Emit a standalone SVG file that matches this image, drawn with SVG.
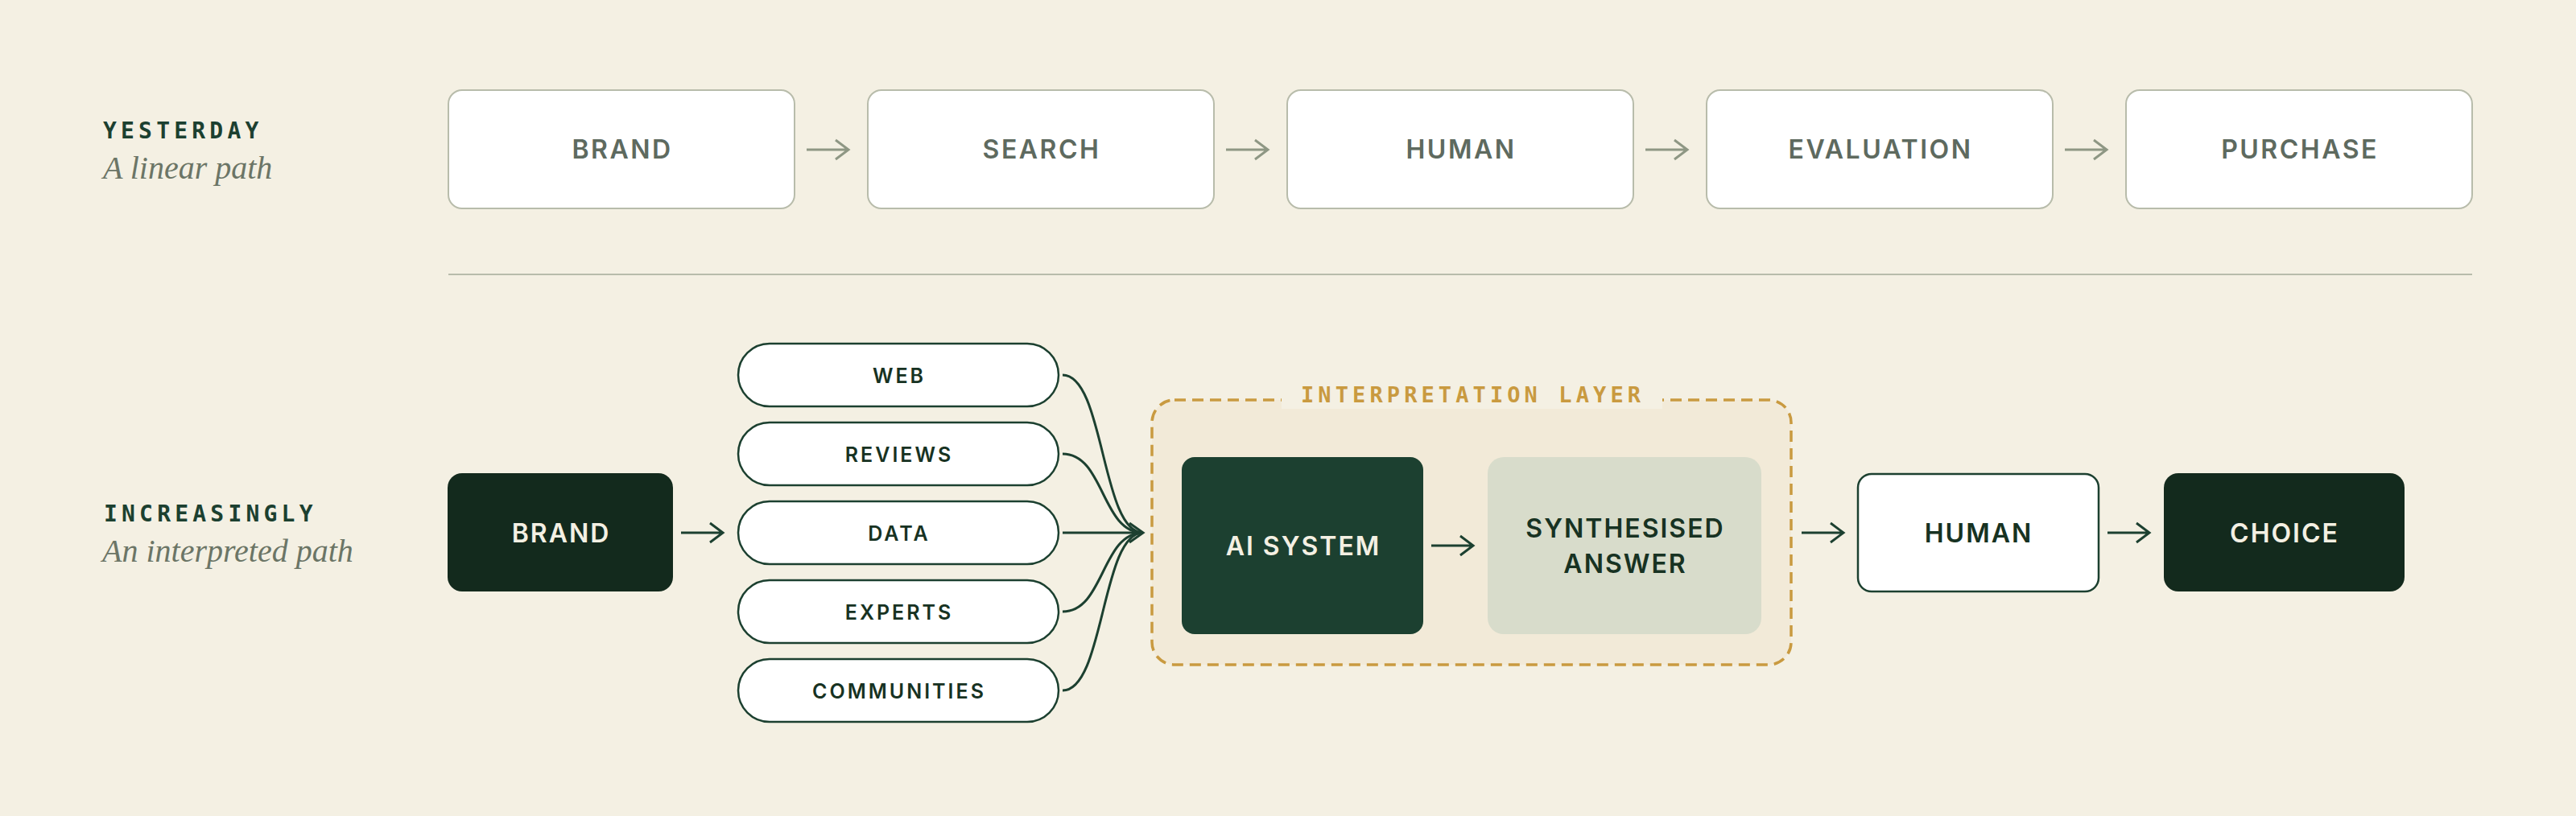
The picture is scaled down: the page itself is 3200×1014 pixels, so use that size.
<svg xmlns="http://www.w3.org/2000/svg" width="3200" height="1014" viewBox="0 0 3200 1014">
  <style>
    .bg { fill: #f4f0e3; }
    .tbox { fill: #ffffff; stroke: #b8bcab; stroke-width: 2; }
    .ttext { font-family: Inter, "Noto Sans", "Liberation Sans", sans-serif; font-size: 32px; font-weight: 600; fill: #5e6a5f; letter-spacing: 2.5px; text-anchor: middle; }
    .tarrow { fill: none; stroke: #8e9784; stroke-width: 3; stroke-linecap: butt; stroke-linejoin: miter; }
    .kicker { font-family: "DejaVu Sans Mono", "Liberation Mono", monospace; font-size: 28px; font-weight: 700; fill: #1c4030; letter-spacing: 5.2px; }
    .sub { font-family: "Liberation Serif", "DejaVu Serif", serif; font-style: italic; font-size: 40px; fill: #6b7566; }
    .pill { fill: #ffffff; stroke: #1c4030; stroke-width: 2.5; }
    .ptext { font-family: Inter, "Noto Sans", "Liberation Sans", sans-serif; font-size: 25px; font-weight: 600; fill: #173222; letter-spacing: 3px; text-anchor: middle; }
    .btext { font-family: Inter, "Noto Sans", "Liberation Sans", sans-serif; font-size: 32px; font-weight: 600; letter-spacing: 2px; text-anchor: middle; }
    .conn { fill: none; stroke: #1c4030; stroke-width: 3; }
    .layer { fill: #f2ead8; stroke: #c99a40; stroke-width: 3.5; stroke-dasharray: 14 8; }
    .ltext { font-family: "DejaVu Sans Mono", "Liberation Mono", monospace; font-size: 27px; font-weight: 700; fill: #c99a40; letter-spacing: 5.1px; }
  </style>
  <rect class="bg" x="0" y="0" width="3200" height="1014"/>

  <!-- left labels -->
  <g id="label-yesterday">
    <text class="kicker" x="128" y="172">YESTERDAY</text>
    <text class="sub" x="128" y="222">A linear path</text>
  </g>
  <g id="label-increasingly">
    <text class="kicker" x="129" y="648">INCREASINGLY</text>
    <text class="sub" x="127" y="698">An interpreted path</text>
  </g>

  <!-- top row -->
  <g id="top-brand">
    <rect class="tbox" x="557" y="112" width="430" height="147" rx="17"/>
    <text class="ttext" x="773" y="197">BRAND</text>
  </g>
  <g id="top-search">
    <rect class="tbox" x="1078" y="112" width="430" height="147" rx="17"/>
    <text class="ttext" x="1294" y="197">SEARCH</text>
  </g>
  <g id="top-human">
    <rect class="tbox" x="1599" y="112" width="430" height="147" rx="17"/>
    <text class="ttext" x="1815" y="197">HUMAN</text>
  </g>
  <g id="top-evaluation">
    <rect class="tbox" x="2120" y="112" width="430" height="147" rx="17"/>
    <text class="ttext" x="2336" y="197">EVALUATION</text>
  </g>
  <g id="top-purchase">
    <rect class="tbox" x="2641" y="112" width="430" height="147" rx="17"/>
    <text class="ttext" x="2857" y="197">PURCHASE</text>
  </g>

  <line x1="557" y1="341" x2="3071" y2="341" stroke="#b8bcab" stroke-width="2"/>

  <!-- interpretation layer container -->
  <g id="interpretation-layer">
    <rect class="layer" x="1431" y="497" width="794" height="329" rx="28"/>
    <rect x="1592" y="478" width="473" height="30" fill="#f4f0e3"/>
    <text class="ltext" x="1616" y="500">INTERPRETATION LAYER</text>
  </g>

  <!-- bottom row nodes -->
  <g id="brand">
    <rect x="556" y="588" width="280" height="147" rx="18" fill="#132a1d"/>
    <text class="btext" x="697" y="674" fill="#f4f0e3">BRAND</text>
  </g>
  <g id="web">
    <rect class="pill" x="917" y="427" width="398" height="78" rx="39"/>
    <text class="ptext" x="1117" y="476">WEB</text>
  </g>
  <g id="reviews">
    <rect class="pill" x="917" y="525" width="398" height="78" rx="39"/>
    <text class="ptext" x="1117" y="574">REVIEWS</text>
  </g>
  <g id="data">
    <rect class="pill" x="917" y="623" width="398" height="78" rx="39"/>
    <text class="ptext" x="1117" y="672">DATA</text>
  </g>
  <g id="experts">
    <rect class="pill" x="917" y="721" width="398" height="78" rx="39"/>
    <text class="ptext" x="1117" y="770">EXPERTS</text>
  </g>
  <g id="communities">
    <rect class="pill" x="917" y="819" width="398" height="78" rx="39"/>
    <text class="ptext" x="1117" y="868">COMMUNITIES</text>
  </g>
  <g id="ai-system">
    <rect x="1468" y="568" width="300" height="220" rx="16" fill="#1c4030"/>
    <text class="btext" x="1619" y="690" fill="#f4f0e3">AI SYSTEM</text>
  </g>
  <g id="synthesised-answer">
    <rect x="1848" y="568" width="340" height="220" rx="20" fill="#d8dccb"/>
    <text class="btext" x="2019" y="668" fill="#173222">SYNTHESISED</text>
    <text class="btext" x="2019" y="712" fill="#173222">ANSWER</text>
  </g>
  <g id="human">
    <rect x="2308" y="589" width="299" height="146" rx="17" fill="#ffffff" stroke="#1c4030" stroke-width="2.5"/>
    <text class="btext" x="2458" y="674" fill="#173222">HUMAN</text>
  </g>
  <g id="choice">
    <rect x="2688" y="588" width="299" height="147" rx="18" fill="#132a1d"/>
    <text class="btext" x="2838" y="674" fill="#f4f0e3">CHOICE</text>
  </g>

  <!-- connectors -->
  <g id="connectors">
    <path class="tarrow" d="M1002,186 H1054 M1038,174 L1054,186 L1038,198"/>
    <path class="tarrow" d="M1523,186 H1575 M1559,174 L1575,186 L1559,198"/>
    <path class="tarrow" d="M2044,186 H2096 M2080,174 L2096,186 L2080,198"/>
    <path class="tarrow" d="M2565,186 H2617 M2601,174 L2617,186 L2601,198"/>

    <path class="conn" d="M846,662 H898 M882,650 L898,662 L882,674"/>
    <path class="conn" d="M1320,466 C1372,466 1368,662 1420,662"/>
    <path class="conn" d="M1320,564 C1372,564 1368,662 1420,662"/>
    <path class="conn" d="M1320,662 H1420"/>
    <path class="conn" d="M1320,760 C1372,760 1368,662 1420,662"/>
    <path class="conn" d="M1320,858 C1372,858 1368,662 1420,662"/>
    <path class="conn" d="M1403,650 L1420,662 L1403,674"/>
    <path class="conn" d="M1778,678 H1830 M1814,666 L1830,678 L1814,690"/>
    <path class="conn" d="M2238,662 H2290 M2274,650 L2290,662 L2274,674"/>
    <path class="conn" d="M2618,662 H2670 M2654,650 L2670,662 L2654,674"/>
  </g>
</svg>
